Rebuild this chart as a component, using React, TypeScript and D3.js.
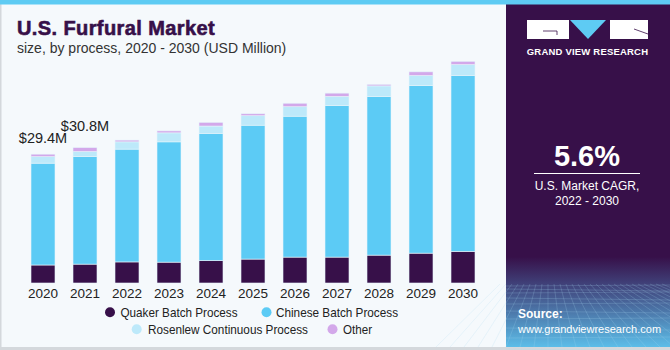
import React, { useRef, useEffect } from 'react';
import * as d3 from 'd3';

const years = ['2020', '2021', '2022', '2023', '2024', '2025', '2026', '2027', '2028', '2029', '2030'];
const quaker = [4.1, 4.3, 4.8, 4.75, 5.1, 5.45, 5.9, 5.9, 6.35, 6.8, 7.2];
const chinese = [23.2, 24.5, 25.7, 27.4, 29.0, 30.5, 32.1, 34.5, 36.1, 38.2, 40.1];
const rosenlew = [1.48, 1.15, 1.65, 2.05, 1.65, 2.15, 2.15, 2.1, 2.45, 2.25, 2.45];
const other = [0.57, 0.9, 0.4, 0.45, 0.85, 0.45, 0.8, 0.75, 0.35, 0.85, 0.75];
const seriesNames = ['Quaker Batch Process', 'Chinese Batch Process', 'Rosenlew Continuous Process', 'Other'];
const seriesColors = ['#371049', '#5ccbf5', '#bde9fa', '#d3a8ea'];
const callouts = [
  { year: '2020', label: '$29.4M' },
  { year: '2021', label: '$30.8M' }
];

const FONT = '"Liberation Sans", Arial, sans-serif';

const App = () => {
  const svgRef = useRef(null);

  useEffect(() => {
    const width = 670;
    const height = 350;
    const svg = d3.select(svgRef.current);
    svg.selectAll('*').remove();
    svg.attr('width', width).attr('height', height).attr('viewBox', `0 0 ${width} ${height}`);

    const defs = svg.append('defs');
    const grad = defs
      .append('linearGradient')
      .attr('id', 'panelGrad')
      .attr('x1', 0)
      .attr('y1', 0)
      .attr('x2', 0)
      .attr('y2', 1);
    grad.append('stop').attr('offset', '0%').attr('stop-color', '#371049');
    grad.append('stop').attr('offset', '74%').attr('stop-color', '#371049');
    grad.append('stop').attr('offset', '82%').attr('stop-color', '#40427a');
    grad.append('stop').attr('offset', '100%').attr('stop-color', '#5cbde8');

    // background
    svg.append('rect').attr('width', width).attr('height', height).attr('fill', '#f5f9fc');
    svg.append('rect').attr('x', 0).attr('y', 0).attr('width', 1.5).attr('height', height).attr('fill', '#d4d8dc');
    svg.append('rect').attr('x', 0).attr('y', 347).attr('width', width).attr('height', 3).attr('fill', '#d4d8dc');

    // right panel
    svg.append('rect').attr('x', 506).attr('y', 0).attr('width', 164).attr('height', 347).attr('fill', 'url(#panelGrad)');
    const grid = svg.append('g').attr('stroke', '#a8d8f2').attr('stroke-opacity', 0.3).attr('stroke-width', 0.7);
    for (let i = 0; i < 10; i++) {
      const yy = 286 + i * i * 0.5 + i * 2.5;
      grid.append('line').attr('x1', 506).attr('x2', 670).attr('y1', yy).attr('y2', yy + (i % 2 ? 2 : -1));
    }
    for (let i = -8; i < 20; i++) {
      const xTop = 588 + i * 6;
      const xBot = 588 + i * 14;
      grid.append('line').attr('x1', xTop - 40).attr('y1', 284).attr('x2', xBot - 40).attr('y2', 347);
    }

    // top stripe
    svg.append('rect').attr('x', 0).attr('y', 0).attr('width', width).attr('height', 4.5).attr('fill', '#5ecbf3');

    // logo
    const logo = svg.append('g');
    logo.append('rect').attr('x', 527).attr('y', 20).attr('width', 42).attr('height', 19).attr('fill', '#ffffff');
    logo.append('path').attr('d', 'M543,31 L557,31 L557,35').attr('fill', 'none').attr('stroke', '#371049').attr('stroke-width', 0.8);
    logo.append('path').attr('d', 'M570,20 L606,20 L588,39 Z').attr('fill', '#5ecbf3');
    logo.append('rect').attr('x', 610).attr('y', 20).attr('width', 38).attr('height', 19).attr('fill', '#ffffff');
    logo.append('path').attr('d', 'M634,29 L648,34').attr('fill', 'none').attr('stroke', '#371049').attr('stroke-width', 0.8);
    logo
      .append('text')
      .attr('x', 587.5)
      .attr('y', 55)
      .attr('text-anchor', 'middle')
      .attr('fill', '#ffffff')
      .attr('font-family', FONT)
      .attr('font-weight', 'bold')
      .attr('font-size', 9.5)
      .attr('letter-spacing', 0.2)
      .text('GRAND VIEW RESEARCH');

    // CAGR
    svg
      .append('text')
      .attr('x', 587)
      .attr('y', 165.5)
      .attr('text-anchor', 'middle')
      .attr('fill', '#ffffff')
      .attr('font-family', FONT)
      .attr('font-weight', 'bold')
      .attr('font-size', 29)
      .text('5.6%');
    svg.append('line').attr('x1', 534).attr('x2', 640).attr('y1', 173.5).attr('y2', 173.5).attr('stroke', '#ffffff').attr('stroke-width', 1);
    svg
      .append('text')
      .attr('x', 587)
      .attr('y', 190)
      .attr('text-anchor', 'middle')
      .attr('fill', '#ffffff')
      .attr('font-family', FONT)
      .attr('font-size', 12)
      .text('U.S. Market CAGR,');
    svg
      .append('text')
      .attr('x', 587)
      .attr('y', 205)
      .attr('text-anchor', 'middle')
      .attr('fill', '#ffffff')
      .attr('font-family', FONT)
      .attr('font-size', 12)
      .text('2022 - 2030');

    svg
      .append('text')
      .attr('x', 518)
      .attr('y', 318)
      .attr('fill', '#ffffff')
      .attr('font-family', FONT)
      .attr('font-weight', 'bold')
      .attr('font-size', 12)
      .text('Source:');
    svg
      .append('text')
      .attr('x', 518)
      .attr('y', 333)
      .attr('fill', '#ffffff')
      .attr('font-family', FONT)
      .attr('font-size', 11)
      .text('www.grandviewresearch.com');

    // titles
    svg
      .append('text')
      .attr('x', 17)
      .attr('y', 35)
      .attr('fill', '#371049')
      .attr('stroke', '#371049')
      .attr('stroke-width', 0.6)
      .attr('font-family', FONT)
      .attr('font-weight', 'bold')
      .attr('font-size', 20)
      .attr('letter-spacing', 0.4)
      .text('U.S. Furfural Market');
    svg
      .append('text')
      .attr('x', 17)
      .attr('y', 53)
      .attr('fill', '#333333')
      .attr('font-family', FONT)
      .attr('font-size', 14)
      .text('size, by process, 2020 - 2030 (USD Million)');

    // chart
    const table = years.map((year, i) => ({
      year,
      q: quaker[i],
      c: chinese[i],
      r: rosenlew[i],
      o: other[i]
    }));
    const keys = ['q', 'c', 'r', 'o'];
    const stack = d3.stack().keys(keys)(table);

    const xScale = d3.scaleBand().domain(years).range([22, 484]).paddingInner(0.4286).paddingOuter(0.2143);
    const yScale = d3.scaleLinear().domain([0, 60]).range([283, 283 - 60 * 4.39]);

    const g = svg.append('g');
    g.selectAll('g.layer')
      .data(stack)
      .enter()
      .append('g')
      .attr('class', 'layer')
      .attr('fill', (d, i) => seriesColors[i])
      .selectAll('rect')
      .data(d => d)
      .enter()
      .append('rect')
      .attr('x', d => xScale(d.data.year))
      .attr('width', xScale.bandwidth())
      .attr('y', d => yScale(d[1]))
      .attr('height', d => yScale(d[0]) - yScale(d[1]))
      .attr('stroke', '#e6f4fb')
      .attr('stroke-width', 0.6);

    const totals = table.map(d => d.q + d.c + d.r + d.o);
    callouts.forEach((c, k) => {
      const i = years.indexOf(c.year);
      svg
        .append('text')
        .attr('x', xScale(c.year) + xScale.bandwidth() / 2)
        .attr('y', yScale(totals[i]) - (k === 0 ? 11 : 17))
        .attr('text-anchor', 'middle')
        .attr('fill', '#222222')
        .attr('font-family', FONT)
        .attr('font-size', 14.5)
        .text(c.label);
    });

    const xAxis = d3.axisBottom(xScale).tickSize(0).tickPadding(5);
    const ax = svg.append('g').attr('transform', 'translate(0,283)').call(xAxis);
    ax.select('.domain').remove();
    ax.selectAll('text').attr('font-family', FONT).attr('font-size', 13.5).attr('fill', '#222222').attr('dy', '0.71em');

    // legend
    const legendItems = [
      { cx: 110, tx: 120.5, y: 312.3, w: 117 },
      { cx: 266.5, tx: 276, y: 312.3, w: 122 },
      { cx: 136.7, tx: 148, y: 329.3, w: 160 },
      { cx: 332.5, tx: 343, y: 329.3, w: 29 }
    ];
    const lg = svg.append('g');
    legendItems.forEach((p, i) => {
      lg.append('circle').attr('cx', p.cx).attr('cy', p.y).attr('r', 5).attr('fill', seriesColors[i]);
      lg.append('text')
        .attr('x', p.tx)
        .attr('y', p.y)
        .attr('dy', '0.35em')
        .attr('fill', '#222222')
        .attr('font-family', FONT)
        .attr('font-size', 13)
        .attr('textLength', p.w)
        .attr('lengthAdjust', 'spacingAndGlyphs')
        .text(seriesNames[i]);
    });
  }, []);

  return (
    <div style={{ position: 'fixed', left: 0, top: 0, width: 670, height: 350 }}>
      <svg ref={svgRef} style={{ display: 'block' }}></svg>
    </div>
  );
};

export default App;
